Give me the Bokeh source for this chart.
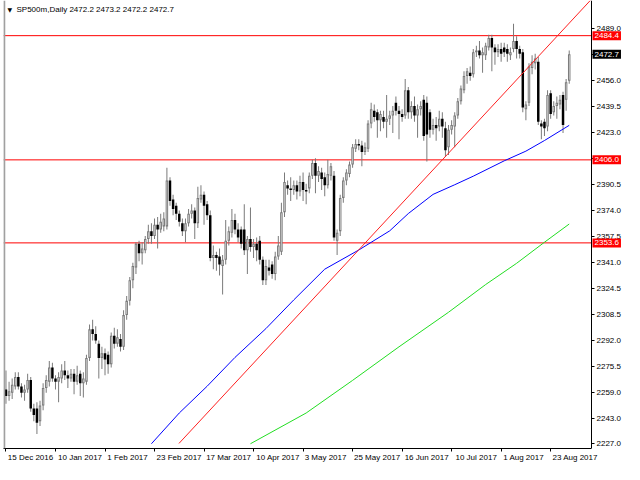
import pandas as pd
from bokeh.plotting import figure
from bokeh.models import (ColumnDataSource, FixedTicker, NumeralTickFormatter,
                          LinearAxis, Span, Label, Range1d)
from bokeh.embed import file_html
from bokeh.resources import INLINE

# ---------------- data ----------------
date_labels = ["15 Dec 2016", "10 Jan 2017", "1 Feb 2017", "23 Feb 2017",
               "17 Mar 2017", "10 Apr 2017", "3 May 2017", "25 May 2017",
               "16 Jun 2017", "10 Jul 2017", "1 Aug 2017", "23 Aug 2017"]
date_tick_idx = [0, 16, 32, 48, 64, 80, 96, 112, 128, 144, 160, 176]

price_ticks = [2227.0, 2243.0, 2259.0, 2275.5, 2292.0, 2308.5, 2324.5, 2341.0,
               2357.5, 2374.0, 2390.5, 2407.0, 2423.0, 2439.5, 2456.0, 2472.5, 2489.0]
hidden_ticks = [2407.0, 2472.5]

opens = [2261, 2257, 2259, 2263, 2269, 2263, 2259, 2261, 2267, 2249,
         2249, 2241, 2251, 2262, 2266, 2275, 2268, 2266, 2268, 2273,
         2270, 2268, 2271, 2266, 2271, 2265, 2266, 2281, 2299, 2296,
         2290, 2281, 2284, 2283, 2277, 2295, 2290, 2293, 2288, 2308,
         2317, 2330, 2338, 2353, 2347, 2349, 2356, 2361, 2358, 2365,
         2362, 2364, 2364, 2393, 2381, 2377, 2372, 2366, 2361, 2366,
         2372, 2374, 2366, 2381, 2384, 2378, 2371, 2344, 2346, 2345,
         2339, 2343, 2355, 2360, 2368, 2362, 2362, 2362, 2349, 2356,
         2351, 2353, 2355, 2343, 2330, 2338, 2340, 2334, 2345, 2348,
         2373, 2390, 2388, 2387, 2390, 2386, 2392, 2387, 2388, 2396,
         2404, 2396, 2398, 2395, 2390, 2396, 2396, 2355, 2361, 2382,
         2393, 2397, 2403, 2413, 2416, 2415, 2411, 2413, 2429, 2437,
         2436, 2431, 2433, 2430, 2432, 2434, 2442, 2437, 2435, 2434,
         2450, 2436, 2440, 2434, 2438, 2444, 2442, 2436, 2425, 2428,
         2427, 2432, 2426, 2414, 2425, 2427, 2434, 2443, 2450, 2459,
         2461, 2460, 2474, 2475, 2472, 2472, 2477, 2483, 2477, 2474,
         2476, 2477, 2476, 2472, 2476, 2481, 2476, 2474, 2438, 2442,
         2464, 2467, 2468, 2429, 2430, 2427, 2448, 2436, 2440, 2441,
         2447, 2444, 2456]
highs = [2273, 2266, 2268, 2272, 2272, 2265, 2264, 2271, 2269, 2252,
         2253, 2254, 2265, 2270, 2279, 2278, 2270, 2272, 2277, 2279,
         2273, 2274, 2274, 2276, 2273, 2272, 2283, 2302, 2305, 2301,
         2292, 2288, 2287, 2285, 2297, 2300, 2299, 2296, 2311, 2320,
         2332, 2341, 2354, 2355, 2354, 2358, 2365, 2366, 2369, 2370,
         2372, 2373, 2401, 2395, 2384, 2379, 2374, 2369, 2369, 2375,
         2378, 2376, 2389, 2390, 2386, 2380, 2374, 2352, 2348, 2350,
         2346, 2368, 2364, 2375, 2372, 2366, 2364, 2378, 2358, 2376,
         2356, 2357, 2358, 2345, 2343, 2343, 2342, 2348, 2358, 2379,
         2398, 2393, 2395, 2393, 2393, 2396, 2398, 2391, 2398, 2406,
         2407, 2402, 2401, 2398, 2406, 2404, 2399, 2362, 2384, 2395,
         2400, 2405, 2416, 2419, 2419, 2418, 2417, 2431, 2442, 2441,
         2438, 2437, 2437, 2447, 2437, 2440, 2446, 2440, 2438, 2457,
         2452, 2443, 2446, 2441, 2443, 2447, 2446, 2438, 2432, 2433,
         2437, 2436, 2430, 2428, 2431, 2436, 2445, 2453, 2462, 2464,
         2465, 2476, 2478, 2481, 2477, 2480, 2485, 2485, 2479, 2479,
         2480, 2480, 2479, 2477, 2492, 2484, 2478, 2476, 2443, 2467,
         2472, 2473, 2471, 2431, 2432, 2450, 2450, 2443, 2446, 2447,
         2449, 2457, 2475]
lows = [2252, 2254, 2255, 2261, 2261, 2256, 2254, 2259, 2247, 2241,
        2233, 2238, 2248, 2259, 2263, 2266, 2261, 2253, 2265, 2267,
        2262, 2266, 2258, 2264, 2257, 2256, 2264, 2279, 2292, 2290,
        2268, 2274, 2270, 2271, 2275, 2287, 2288, 2285, 2286, 2305,
        2314, 2325, 2334, 2342, 2340, 2347, 2353, 2353, 2356, 2350,
        2360, 2361, 2362, 2377, 2371, 2368, 2364, 2358, 2354, 2364,
        2369, 2356, 2363, 2379, 2365, 2368, 2342, 2337, 2336, 2333,
        2321, 2340, 2352, 2357, 2359, 2354, 2350, 2346, 2334, 2348,
        2344, 2342, 2340, 2327, 2327, 2333, 2331, 2330, 2343, 2346,
        2370, 2384, 2380, 2384, 2381, 2383, 2380, 2378, 2385, 2394,
        2385, 2392, 2387, 2383, 2388, 2393, 2355, 2346, 2358, 2379,
        2390, 2395, 2401, 2411, 2412, 2402, 2409, 2411, 2426, 2430,
        2420, 2424, 2426, 2420, 2428, 2423, 2434, 2419, 2430, 2432,
        2432, 2432, 2430, 2420, 2434, 2418, 2405, 2420, 2422, 2418,
        2424, 2420, 2408, 2409, 2422, 2414, 2432, 2441, 2448, 2454,
        2456, 2458, 2471, 2470, 2461, 2469, 2475, 2462, 2466, 2471,
        2468, 2471, 2468, 2469, 2474, 2470, 2470, 2436, 2431, 2440,
        2460, 2463, 2428, 2419, 2421, 2424, 2432, 2434, 2432, 2438,
        2423, 2437, 2454]
closes = [2257, 2260, 2264, 2269, 2263, 2259, 2261, 2267, 2249, 2245,
          2240, 2251, 2262, 2267, 2275, 2268, 2266, 2269, 2273, 2270,
          2268, 2271, 2266, 2270, 2265, 2268, 2281, 2299, 2296, 2292,
          2281, 2284, 2280, 2277, 2295, 2290, 2294, 2288, 2308, 2317,
          2330, 2339, 2353, 2347, 2350, 2356, 2361, 2358, 2365, 2362,
          2367, 2369, 2393, 2380, 2375, 2372, 2367, 2361, 2366, 2372,
          2374, 2366, 2382, 2384, 2377, 2371, 2344, 2346, 2344, 2340,
          2343, 2355, 2361, 2368, 2362, 2357, 2353, 2349, 2356, 2351,
          2353, 2349, 2343, 2330, 2339, 2336, 2334, 2345, 2352, 2373,
          2392, 2388, 2387, 2390, 2386, 2392, 2387, 2386, 2396, 2404,
          2396, 2399, 2394, 2390, 2397, 2402, 2357, 2360, 2382, 2393,
          2398, 2403, 2414, 2416, 2415, 2411, 2414, 2429, 2438, 2433,
          2431, 2435, 2430, 2432, 2434, 2437, 2437, 2435, 2433, 2450,
          2436, 2440, 2434, 2438, 2440, 2421, 2422, 2425, 2428, 2426,
          2432, 2427, 2412, 2425, 2428, 2434, 2443, 2451, 2459, 2462,
          2459, 2474, 2475, 2472, 2474, 2478, 2483, 2477, 2474, 2476,
          2473, 2474, 2473, 2474, 2481, 2476, 2473, 2439, 2441, 2465,
          2468, 2470, 2430, 2427, 2426, 2447, 2435, 2440, 2442, 2444,
          2428, 2455, 2472.7]

# moving averages (blue and green), by bar index
blue_idx = [47, 56, 65, 74, 84, 93, 103, 114, 124, 130, 138, 145, 151, 161, 168, 174, 182]
blue_val = [2226.8, 2246.2, 2263.1, 2281.3, 2299.5, 2317.6, 2337.0, 2349.1, 2361.2,
            2372.1, 2384.2, 2390.3, 2395.7, 2405.4, 2411.5, 2418.2, 2427.8]
green_idx = [79, 97, 112, 127, 143, 155, 165, 174, 182]
green_val = [2226.8, 2246.2, 2266.8, 2288.0, 2309.8, 2327.3, 2340.7, 2354.0, 2365.5]

# red trend line (two anchor points)
trend_idx = [55.9, 188.8]
trend_val = [2227.0, 2506.6]

# horizontal levels and last price
levels = [2484.4, 2406.0, 2353.6]
last_price = 2472.7
title_text = "SP500m,Daily  2472.2 2473.2 2472.2 2472.7"

# ---------------- figure ----------------
W, H = 624, 464
BORDER_L = 3
AXIS_PX = 33                      # width of the price-scale strip on the right
X0, X1 = -0.8, 189.2              # bar-index span of the chart area
Y0, Y1 = 2223.8, 2506.6
ppb = (W - BORDER_L - AXIS_PX) / (X1 - X0)
XR = X1 + AXIS_PX / ppb           # frame extends over the price-scale strip
FONT = "Liberation Sans"
FS = "8px"
GREY = "#7a7a7a"

p = figure(width=W, height=H, x_range=Range1d(X0, XR), y_range=Range1d(Y0, Y1),
           y_axis_location="right", output_backend="svg", toolbar_location=None,
           min_border_left=BORDER_L, min_border_top=0, min_border_right=0, min_border_bottom=0)
p.grid.visible = False
p.outline_line_color = None
p.background_fill_color = "white"
p.border_fill_color = "white"

# right price axis, pinned at the chart's right edge
ya = p.yaxis[0]
ya.fixed_location = X1
ya.ticker = FixedTicker(ticks=price_ticks)
ya.formatter = NumeralTickFormatter(format="0.0")
ya.major_label_overrides = {t: "" for t in hidden_ticks}
ya.axis_line_color = "black"
ya.major_tick_line_color = "black"
ya.major_tick_in = 0
ya.major_tick_out = 3
ya.minor_tick_line_color = None
ya.major_label_text_font = FONT
ya.major_label_text_font_size = FS
ya.major_label_text_color = "black"
ya.major_label_standoff = 2

# bottom axis: line + tick marks only
xa = p.xaxis[0]
xa.bounds = (X0, X1)
xa.ticker = FixedTicker(ticks=date_tick_idx)
xa.major_label_overrides = {t: "" for t in date_tick_idx}
xa.axis_line_color = "black"
xa.major_tick_line_color = "black"
xa.major_tick_in = 0
xa.major_tick_out = 3
xa.minor_tick_line_color = None
xa.major_label_standoff = 0
xa.major_label_text_font_size = "1px"

# second bottom axis: date labels written to the right of each tick (MT4 style)
label_pos = [t + (2 + len(s) * 4.1 / 2) / ppb for t, s in zip(date_tick_idx, date_labels)]
xa2 = LinearAxis(ticker=FixedTicker(ticks=label_pos),
                 major_label_overrides={pos: s for pos, s in zip(label_pos, date_labels)})
xa2.axis_line_color = None
xa2.major_tick_line_color = None
xa2.minor_tick_line_color = None
xa2.major_tick_in = 0
xa2.major_tick_out = 0
xa2.major_label_standoff = 1
xa2.major_label_text_font = FONT
xa2.major_label_text_font_size = FS
xa2.major_label_text_color = "black"
p.add_layout(xa2, "below")

# left window border
p.add_layout(Span(location=X0 + 0.25, dimension="height", line_color="#a0a0a0", line_width=2))

# horizontal levels (end at the price scale), one renderer each
for lv in levels:
    p.line([X0, X1], [lv, lv], line_color="#ff0000", line_width=1)

# candles (drawn with fills only)
df = pd.DataFrame(dict(x=list(range(len(opens))), o=opens, h=highs, l=lows, c=closes))
df["top"] = df[["o", "c"]].max(axis=1)
df["bot"] = df[["o", "c"]].min(axis=1)
df["bot"] = df[["bot"]].join((df["top"] - 0.7).rename("b2")).min(axis=1)
df["itop"] = df["top"] - 0.65
df["ibot"] = df["bot"] + 0.65
up_df = df[df.c >= df.o]
up = ColumnDataSource(up_df)
inner = ColumnDataSource(up_df[up_df.itop > up_df.ibot])
dn = ColumnDataSource(df[df.c < df.o])
allsrc = ColumnDataSource(df)

WICK = 1.0 / ppb
p.vbar(x="x", width=WICK, top="h", bottom="l", source=allsrc, fill_color=GREY, line_color=None)
p.vbar(x="x", width=0.8, top="top", bottom="bot", source=up, fill_color=GREY, line_color=None)
p.vbar(x="x", width=0.8 - 2.0 / ppb, top="itop", bottom="ibot", source=inner,
       fill_color="white", line_color=None)
p.vbar(x="x", width=0.8, top="top", bottom="bot", source=dn, fill_color="black", line_color=None)

# moving averages and trend line
p.line(blue_idx, blue_val, line_color="#0000ff", line_width=1)
p.line(green_idx, green_val, line_color="#22dd22", line_width=1)
p.line(trend_idx, trend_val, line_color="#ff2020", line_width=1)

# price labels on the price scale
for lv in levels:
    p.add_layout(Label(x=X1, y=lv, x_offset=1, text=f"{lv:.1f}", text_color="white",
                       text_font=FONT, text_font_size=FS, text_align="left",
                       text_baseline="middle", background_fill_color="#ff0000",
                       padding=2))
p.add_layout(Label(x=X1, y=last_price, x_offset=1, text=f"{last_price:.1f}", text_color="white",
                   text_font=FONT, text_font_size=FS, text_align="left",
                   text_baseline="middle", background_fill_color="black", padding=2))

# chart caption
p.add_layout(Label(x=X0, y=Y1, x_offset=4, y_offset=-9, text="\u25bc", text_color="black",
                   text_font="DejaVu Sans", text_font_size="6px", text_baseline="middle"))
p.add_layout(Label(x=X0, y=Y1, x_offset=13, y_offset=-9, text=title_text, text_color="black",
                   text_font=FONT, text_font_size=FS, text_baseline="middle"))

open("out.html", "w").write(file_html(p, INLINE))
